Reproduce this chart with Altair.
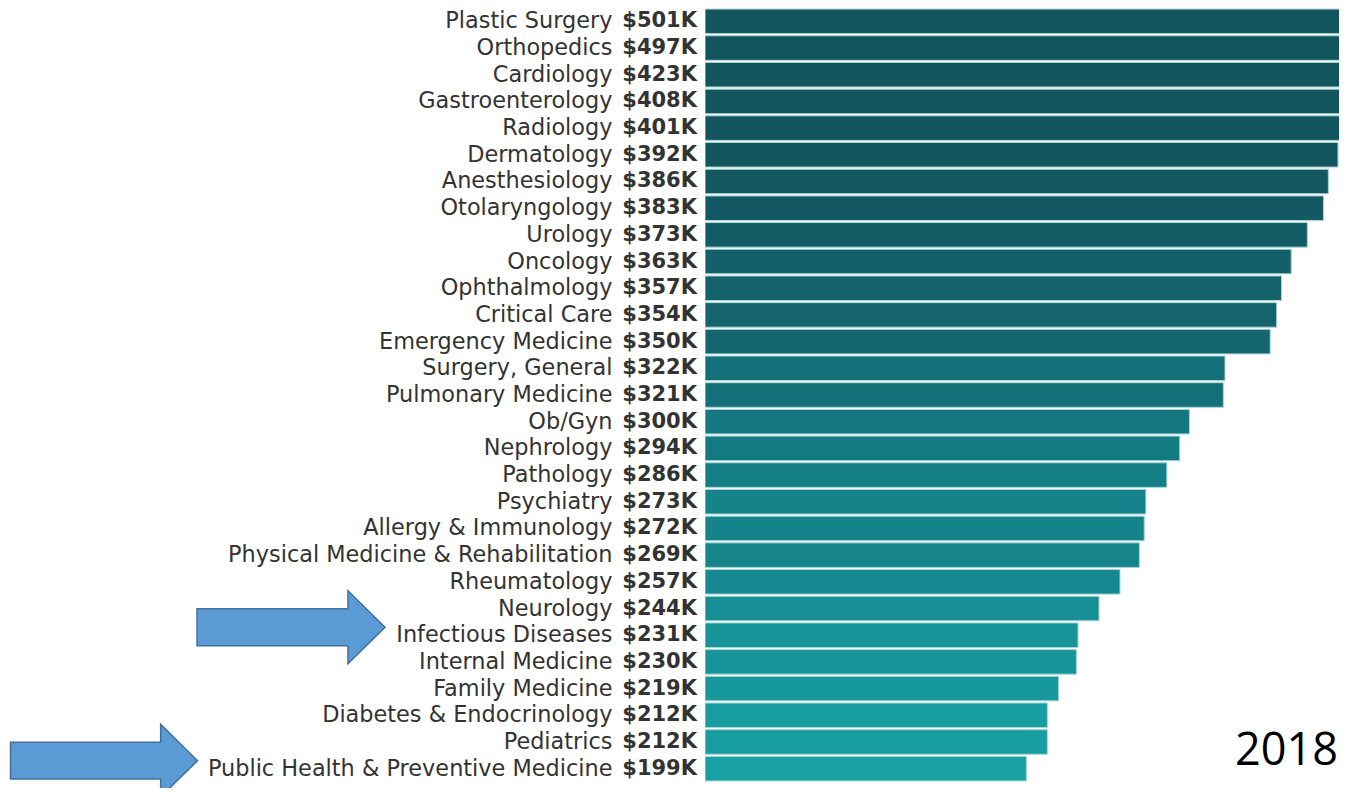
import altair as alt
import pandas as pd

specialties = [
    "Plastic Surgery", "Orthopedics", "Cardiology", "Gastroenterology", "Radiology",
    "Dermatology", "Anesthesiology", "Otolaryngology", "Urology", "Oncology",
    "Ophthalmology", "Critical Care", "Emergency Medicine", "Surgery, General",
    "Pulmonary Medicine", "Ob/Gyn", "Nephrology", "Pathology", "Psychiatry",
    "Allergy & Immunology", "Physical Medicine & Rehabilitation", "Rheumatology",
    "Neurology", "Infectious Diseases", "Internal Medicine", "Family Medicine",
    "Diabetes & Endocrinology", "Pediatrics", "Public Health & Preventive Medicine",
]
salaries_k = [501, 497, 423, 408, 401, 392, 386, 383, 373, 363, 357, 354, 350, 322,
              321, 300, 294, 286, 273, 272, 269, 257, 244, 231, 230, 219, 212, 212, 199]
highlight_1 = ["Infectious Diseases"]
highlight_2 = ["Public Health & Preventive Medicine"]
year_label = ["2018"]

df = pd.DataFrame({"specialty": specialties, "salary": salaries_k})

W, H = 634, 774
FONT = "DejaVu Sans"

y_enc = alt.Y(
    "specialty:N", sort=specialties, title=None,
    scale=alt.Scale(paddingInner=0.08, paddingOuter=0.04),
    axis=alt.Axis(domain=False, ticks=False, labelFont=FONT, labelFontSize=22.4,
                  labelColor="#333333", labelPadding=93, labelLimit=600),
)

base = alt.Chart(df)

bars = base.mark_bar(clip=True, stroke="#a9d6d6", strokeWidth=1).encode(
    x=alt.X("salary:Q", scale=alt.Scale(domain=[0, 392.6], nice=False, zero=True),
            axis=None),
    y=y_enc,
    color=alt.Color("salary:Q", legend=None,
                    scale=alt.Scale(domain=[199, 392], range=["#18a1a3", "#13555f"],
                                    clamp=True)),
)

values = base.transform_calculate(
    lbl="'$' + datum.salary + 'K'"
).mark_text(align="right", baseline="middle", font=FONT, fontSize=21,
            fontWeight="bold", color="#333333").encode(
    x=alt.value(-8),
    y=alt.Y("specialty:N", sort=specialties),
    text="lbl:N",
)

arrow_path = "M -1 -0.197 L 0.606 -0.197 L 0.606 -0.388 L 1 0 L 0.606 0.388 L 0.606 0.197 L -1 0.197 Z"

arrow1 = alt.Chart(pd.DataFrame({"specialty": highlight_1})).mark_point(
    shape=arrow_path, filled=True, fill="#5b9bd5", stroke="#41719c", strokeWidth=1.5,
    opacity=1, size=188 * 188, yOffset=-8,
).encode(x=alt.value(-414), y=alt.Y("specialty:N", sort=specialties))

arrow2 = alt.Chart(pd.DataFrame({"specialty": highlight_2})).mark_point(
    shape=arrow_path, filled=True, fill="#5b9bd5", stroke="#41719c", strokeWidth=1.5,
    opacity=1, size=187 * 187, yOffset=-8,
).encode(x=alt.value(-601), y=alt.Y("specialty:N", sort=specialties))

year = alt.Chart(pd.DataFrame({"t": year_label})).mark_text(
    align="right", baseline="alphabetic", font="Open Sans", fontSize=45, color="#000000"
).encode(x=alt.value(633), y=alt.value(757), text="t:N")

chart = alt.layer(bars, values, arrow1, arrow2, year).properties(
    width=W, height=H,
    background="white",
    autosize=alt.AutoSizeParams(type="none"),
    padding={"left": 697, "top": 0, "right": 0, "bottom": 6},
).configure_view(stroke=None, strokeWidth=0)

chart.save("out.html", embed_options={"renderer": "svg", "actions": False})
